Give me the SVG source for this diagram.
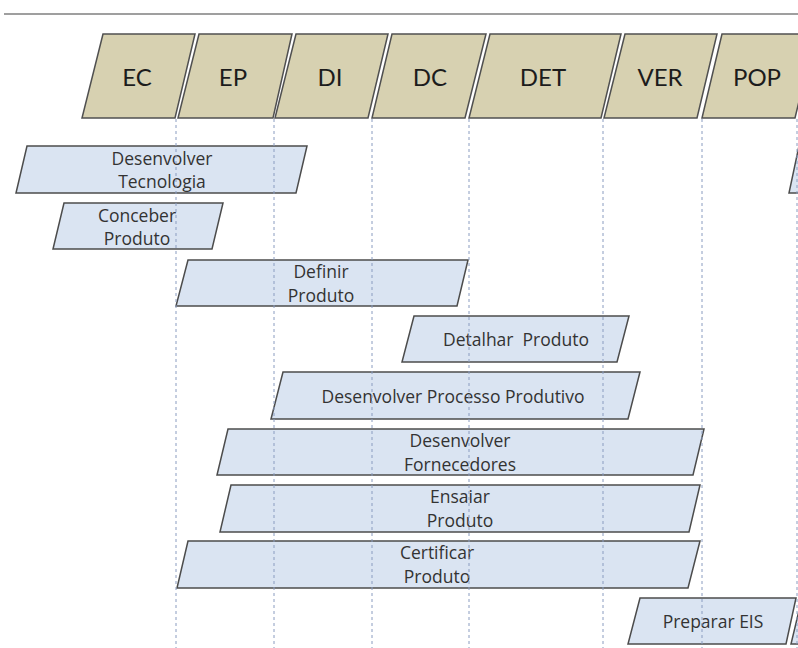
<svg xmlns="http://www.w3.org/2000/svg" width="798" height="648" viewBox="0 0 798 648">
  <style>
    .phase { fill: #d7d1b1; stroke: #505050; stroke-width: 1.5; }
    .phase-label { font-family: Lato, "Open Sans", sans-serif; font-size: 24px; fill: #1c1c1c; text-anchor: middle; }
    .task { fill: #dae4f2; stroke: #4c4c4c; stroke-width: 1.5; }
    .task-label { font-family: "Open Sans", Lato, sans-serif; font-size: 17.5px; fill: #333333; text-anchor: middle; }
    .guide { stroke: #8a9cc0; stroke-width: 1; stroke-dasharray: 3 3; fill: none; }
  </style>

  <rect width="798" height="648" fill="#ffffff"/>
  <line x1="4" y1="14" x2="798" y2="14" stroke="#7f7f7f" stroke-width="1.6"/>

  <!-- phase headers -->
  <g id="phase-EC">
    <polygon class="phase" points="103,34 195,34 175,118 82,118"/>
    <text class="phase-label" x="137" y="86">EC</text>
  </g>
  <g id="phase-EP">
    <polygon class="phase" points="199,34 292,34 273,118 178,118"/>
    <text class="phase-label" x="233" y="86">EP</text>
  </g>
  <g id="phase-DI">
    <polygon class="phase" points="296,34 388,34 368,118 275,118"/>
    <text class="phase-label" x="330" y="86">DI</text>
  </g>
  <g id="phase-DC">
    <polygon class="phase" points="392,34 486,34 465,118 372,118"/>
    <text class="phase-label" x="430" y="86">DC</text>
  </g>
  <g id="phase-DET">
    <polygon class="phase" points="490,34 621,34 601,118 469,118"/>
    <text class="phase-label" x="543" y="86">DET</text>
  </g>
  <g id="phase-VER">
    <polygon class="phase" points="625,34 717,34 697,118 604,118"/>
    <text class="phase-label" x="660" y="86">VER</text>
  </g>
  <g id="phase-POP">
    <polygon class="phase" points="722,34 815,34 795,118 702,118"/>
    <text class="phase-label" x="757" y="86">POP</text>
  </g>

  <!-- activity bars -->
  <g id="task-desenvolver-tecnologia">
    <polygon class="task" points="27,146 307,146 296,193 16,193"/>
    <text class="task-label" x="162" y="165">Desenvolver</text>
    <text class="task-label" x="162" y="188">Tecnologia</text>
  </g>
  <g id="task-conceber-produto">
    <polygon class="task" points="64,203 223,203 212,249 53,249"/>
    <text class="task-label" x="137" y="222">Conceber</text>
    <text class="task-label" x="137" y="245">Produto</text>
  </g>
  <g id="task-definir-produto">
    <polygon class="task" points="188,260 468,260 457,306 176,306"/>
    <text class="task-label" x="321" y="278">Definir</text>
    <text class="task-label" x="321" y="302">Produto</text>
  </g>
  <g id="task-detalhar-produto">
    <polygon class="task" points="414,316 629,316 617,362 402,362"/>
    <text class="task-label" x="516" y="346" xml:space="preserve">Detalhar  Produto</text>
  </g>
  <g id="task-processo-produtivo">
    <polygon class="task" points="283,372 640,372 628,419 271,419"/>
    <text class="task-label" x="453" y="403">Desenvolver Processo Produtivo</text>
  </g>
  <g id="task-fornecedores">
    <polygon class="task" points="228,429 704,429 693,475 217,475"/>
    <text class="task-label" x="460" y="447">Desenvolver</text>
    <text class="task-label" x="460" y="471">Fornecedores</text>
  </g>
  <g id="task-ensaiar-produto">
    <polygon class="task" points="231,485 700,485 689,532 220,532"/>
    <text class="task-label" x="460" y="503">Ensaiar</text>
    <text class="task-label" x="460" y="527">Produto</text>
  </g>
  <g id="task-certificar-produto">
    <polygon class="task" points="188,541 700,541 688,588 177,588"/>
    <text class="task-label" x="437" y="559">Certificar</text>
    <text class="task-label" x="437" y="583">Produto</text>
  </g>
  <g id="task-preparar-eis">
    <polygon class="task" points="640,598 796,598 786,644 628,644"/>
    <text class="task-label" x="713" y="628">Preparar EIS</text>
  </g>
  <g id="task-edge-top">
    <polygon class="task" points="799,146 900,146 890,193 789,193"/>
  </g>
  <g id="task-edge-bottom">
    <polygon class="task" points="802,598 900,598 890,644 791,644"/>
  </g>

  <!-- phase boundary guides -->
  <g id="connectors">
    <line class="guide" x1="176" y1="119" x2="176" y2="648"/>
    <line class="guide" x1="274" y1="119" x2="274" y2="648"/>
    <line class="guide" x1="372" y1="119" x2="372" y2="648"/>
    <line class="guide" x1="469" y1="119" x2="469" y2="648"/>
    <line class="guide" x1="603" y1="119" x2="603" y2="648"/>
    <line class="guide" x1="702" y1="119" x2="702" y2="648"/>
    <line class="guide" x1="797" y1="119" x2="797" y2="648"/>
  </g>
</svg>
